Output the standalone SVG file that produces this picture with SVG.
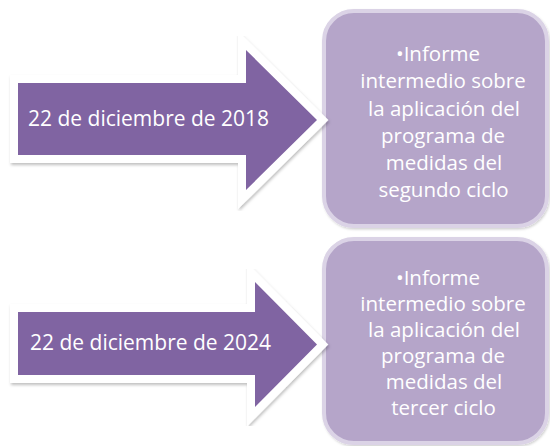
<svg xmlns="http://www.w3.org/2000/svg" width="550" height="446" viewBox="0 0 550 446">
<defs>
<filter id="sh" x="-10%" y="-10%" width="125%" height="125%">
<feDropShadow dx="1" dy="2" stdDeviation="1.5" flood-color="#000" flood-opacity="0.25"/>
</filter>
<filter id="sh2" x="-10%" y="-10%" width="125%" height="125%">
<feDropShadow dx="1" dy="1.5" stdDeviation="1.2" flood-color="#000" flood-opacity="0.18"/>
</filter>
</defs>
<style>
.box{fill:#b5a5c9;stroke:#dbd3e6;stroke-width:4;filter:url(#sh2)}
.arrowOut{fill:#fff;stroke:#fff;stroke-width:16;stroke-linejoin:miter;stroke-miterlimit:4;filter:url(#sh)}
.arrow{fill:#8064a2}
.at{font-family:"Open Sans","DejaVu Sans",sans-serif;font-size:21px;fill:#fff}
.bt{font-family:"Open Sans","DejaVu Sans",sans-serif;font-size:20.5px;fill:#fff;text-anchor:middle}
</style>
<g id="box1">
<rect class="box" x="324" y="11" width="223" height="215" rx="30"/>
<text class="bt"><tspan x="438" y="61">•Informe</tspan><tspan x="443" y="88">intermedio sobre</tspan><tspan x="444" y="115.5">la aplicación del</tspan><tspan x="443" y="142.5">programa de</tspan><tspan x="444" y="169.5">medidas del</tspan><tspan x="443.5" y="196.5">segundo ciclo</tspan></text>
</g>
<g id="box2">
<rect class="box" x="324" y="239" width="223" height="204" rx="30"/>
<text class="bt"><tspan x="438" y="285">•Informe</tspan><tspan x="443" y="311">intermedio sobre</tspan><tspan x="444" y="337">la aplicación del</tspan><tspan x="443" y="363">programa de</tspan><tspan x="444" y="389">medidas del</tspan><tspan x="443.5" y="415">tercer ciclo</tspan></text>
</g>
<g id="arrow1">
<path class="arrowOut" d="M18,83 H246 V50 L317,120 L246,190 V155 H18 Z"/>
<path class="arrow" d="M18,83 H246 V50 L317,120 L246,190 V155 H18 Z"/>
<text class="at" x="28" y="126">22 de diciembre de 2018</text>
</g>
<g id="arrow2">
<path class="arrowOut" d="M18,312 H255 V282 L317,344.5 L255,407 V375 H18 Z"/>
<path class="arrow" d="M18,312 H255 V282 L317,344.5 L255,407 V375 H18 Z"/>
<text class="at" x="30" y="350">22 de diciembre de 2024</text>
</g>
<g id="connectors"/>
</svg>
